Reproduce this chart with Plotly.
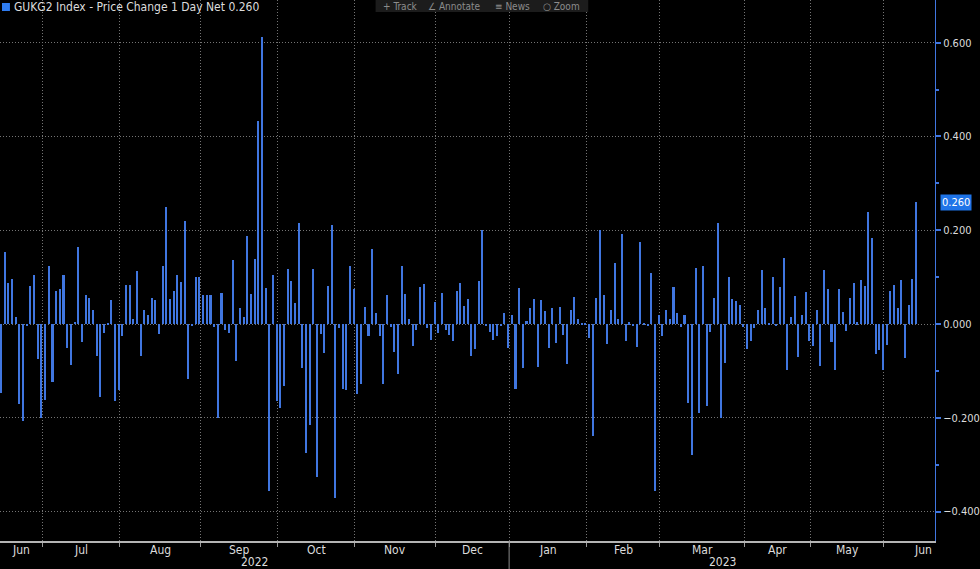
import plotly.graph_objects as go

# daily net change of GUKG2 Index, one list per month (trading days only)
jun_22 = [-0.146, 0.154, 0.088, 0.096, 0.016, -0.171, -0.206, -0.005, 0.081, 0.105, -0.075]
jul_22 = [-0.200, -0.161, 0.124, -0.123, 0.070, 0.075, 0.104, -0.050, -0.088, 0.005, 0.164,
          -0.039, 0.061, 0.056, 0.029, -0.068, -0.156, -0.020, 0.003, 0.052, -0.163]
aug_22 = [-0.140, -0.025, 0.084, 0.084, 0.011, 0.113, -0.068, 0.029, 0.020, 0.056, 0.051,
          -0.021, 0.124, 0.250, 0.054, 0.071, 0.105, 0.089, 0.219, -0.118, -0.004, 0.101]
sep_22 = [0.101, 0.062, 0.062, 0.062, -0.006, -0.200, 0.066, -0.012, -0.018, 0.137, -0.079,
          0.034, 0.016, 0.188, 0.064, 0.139, 0.434, 0.613, 0.077, -0.355, 0.104]
oct_22 = [-0.164, -0.179, -0.132, 0.117, 0.091, 0.045, 0.216, -0.093, -0.275, -0.216, 0.117,
          -0.327, -0.021, -0.061, 0.081, 0.211, -0.371, -0.009, -0.139, -0.141, 0.124]
nov_22 = [0.075, -0.149, -0.127, 0.037, -0.025, 0.161, 0.024, -0.025, -0.127, 0.062, -0.006,
          -0.059, -0.107, 0.124, 0.064, 0.011, -0.046, -0.012, 0.079, 0.086, -0.009, -0.034]
dec_22 = [0.046, -0.018, 0.066, -0.012, -0.023, -0.036, 0.070, 0.088, 0.039, 0.054, -0.068,
          -0.054, 0.091, 0.201, -0.004, -0.016, -0.034, -0.025, -0.003, 0.023]
jan_23 = [-0.052, 0.020, -0.139, 0.077, -0.094, 0.007, 0.034, 0.054, -0.091, 0.052, 0.027,
          -0.051, 0.034, -0.041, 0.037, -0.023, -0.086, 0.029, 0.057, 0.011, 0.003]
feb_23 = [0.002, -0.029, -0.238, 0.055, 0.200, 0.062, -0.043, 0.031, 0.131, 0.011, 0.191,
          -0.037, 0.004, -0.003, -0.049, 0.175, 0.003, -0.004, 0.109, -0.357]
mar_23 = [0.019, -0.026, 0.029, 0.011, 0.079, 0.024, -0.007, 0.020, -0.168, -0.280, 0.119,
          -0.189, 0.124, -0.175, -0.016, 0.056, 0.216, -0.200, -0.084, 0.100, 0.054, 0.049, 0.041]
apr_23 = [-0.007, -0.054, -0.037, -0.009, 0.030, 0.116, 0.034, 0.003, 0.101, -0.003, 0.079,
          0.141, -0.099, 0.016, 0.059, -0.070, 0.019, 0.069]
may_23 = [-0.036, -0.046, 0.030, -0.089, 0.116, 0.074, -0.039, -0.099, 0.074, 0.025, -0.014,
          0.056, 0.088, 0.004, 0.095, 0.082, 0.239, 0.184, -0.063, -0.056]
jun_23 = [-0.099, -0.044, 0.071, 0.084, 0.034, 0.093, -0.073, 0.041, 0.096, 0.260]

month_labels = ["Jun", "Jul", "Aug", "Sep", "Oct", "Nov", "Dec",
                "Jan", "Feb", "Mar", "Apr", "May", "Jun"]
month_years = [2022] * 7 + [2023] * 6
month_data = [jun_22, jul_22, aug_22, sep_22, oct_22, nov_22, dec_22,
              jan_23, feb_23, mar_23, apr_23, may_23, jun_23]

title_text = "GUKG2 Index - Price Change 1 Day Net"

BLUE = "#4076e0"
GRID = "#747474"
TXT = "#dcdcdc"
FONT = "Liberation Sans Narrow, DejaVu Sans Condensed, Roboto, sans-serif"

values = []
starts = []
for m in month_data:
    starts.append(len(values))
    values += m
idx = list(range(len(values)))
last = values[-1]

x_lo = -0.35
x_hi = len(values) - 1 + 5.1
bounds = [s + 0.2 for s in starts[1:]]

fig = go.Figure()
fig.add_trace(go.Bar(x=idx, y=values, width=0.42,
                     marker=dict(color=BLUE, line=dict(width=0)),
                     showlegend=False, hoverinfo="skip"))

# month labels centred in their span
edges = [x_lo] + bounds + [bounds[-1] + 21]
for i, lab in enumerate(month_labels):
    fig.add_annotation(x=(edges[i] + edges[i + 1]) / 2, y=0, xref="x", yref="paper",
                       text=lab, showarrow=False, yanchor="middle", yshift=-9,
                       font=dict(family=FONT, size=12, color=TXT))

# year labels centred on the visible part of each year
split = bounds[month_years.index(2023) - 1]
for yr, a, b in [(2022, x_lo, split), (2023, split, x_hi)]:
    fig.add_annotation(x=(a + b) / 2, y=0, xref="x", yref="paper", text=str(yr),
                       showarrow=False, yanchor="middle", yshift=-21,
                       font=dict(family=FONT, size=12, color=TXT))
fig.add_shape(type="line", xref="x", yref="paper", x0=split, x1=split, y0=0, y1=-0.06,
              line=dict(color="#8a8a8a", width=1))

# header
fig.add_shape(type="rect", xref="paper", yref="paper", x0=2 / 941, x1=10 / 941,
              y0=1 - 11 / 541, y1=1 - 3 / 541, fillcolor="#2f7cf0", line=dict(width=0))
fig.add_annotation(x=0, y=1, xref="paper", yref="paper", xanchor="left", yanchor="middle",
                   xshift=12, yshift=-7, showarrow=False,
                   text=f"{title_text} {last:.3f}",
                   font=dict(family=FONT, size=12, color=TXT))

# toolbar strip at the top of the window
fig.add_shape(type="rect", xref="paper", yref="paper", x0=378 / 941, x1=592 / 941,
              y0=1 - 12 / 541, y1=1.01, fillcolor="#1c1c1c", line=dict(width=0))
for t, px in [("+ Track", 403), ("∠ Annotate", 457), ("≡ News", 516), ("○ Zoom", 565)]:
    fig.add_annotation(x=px / 941, y=1, xref="paper", yref="paper", yanchor="middle",
                       yshift=-6, showarrow=False, text=t,
                       font=dict(family=FONT, size=10, color="#8c8c8c"))

# last value tag on the axis
fig.add_annotation(x=1, y=last, xref="paper", yref="y", xanchor="left", xshift=5,
                   showarrow=False, text=f"{last:.3f}", bgcolor="#1f74e8", borderpad=1,
                   font=dict(family=FONT, size=11, color="white"))

fig.update_layout(
    width=980, height=569,
    margin=dict(l=0, r=39, t=0, b=28),
    paper_bgcolor="black", plot_bgcolor="black",
    font=dict(family=FONT, size=11, color=TXT),
    bargap=0,
)
fig.update_xaxes(
    range=[x_lo, x_hi], tickvals=bounds, showticklabels=False,
    ticks="outside", ticklen=4, tickcolor="#9a9a9a",
    showgrid=True, gridcolor=GRID, griddash="1px,2px", gridwidth=1,
    showline=True, linecolor="#b4b4b4", linewidth=2, zeroline=False,
)
fig.update_yaxes(
    side="right", range=[-0.4626, 0.691], tick0=0, dtick=0.2, tickformat=".3f",
    ticks="outside", ticklen=5, tickwidth=2, tickcolor=BLUE,
    minor=dict(dtick=0.1, ticks="outside", ticklen=3, tickcolor=BLUE, showgrid=False),
    showgrid=True, gridcolor=GRID, griddash="1px,2px", gridwidth=1,
    showline=True, linecolor=BLUE, linewidth=1, zeroline=False,
    tickfont=dict(family=FONT, size=11, color=TXT),
)

fig.write_html("out.html", config={"displayModeBar": False},
               post_script="document.body.style.margin='0';")
